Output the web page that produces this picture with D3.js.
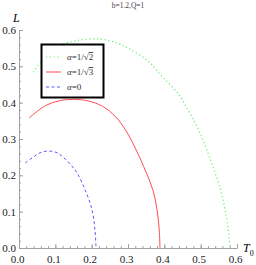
<!DOCTYPE html>
<html>
<head>
<meta charset="utf-8">
<script src="https://cdn.jsdelivr.net/npm/d3@7"></script>
<style>
  html, body { margin: 0; padding: 0; background: #fff; }
</style>
</head>
<body>
<div id="chart"></div>
<script>
// values: [T0, L]
const seriesNames = ["a=1/sqrt2", "a=1/sqrt3", "a=0"];
const greenPts = [
  [0.039, 0.484], [0.063, 0.515], [0.107, 0.555], [0.16, 0.571], [0.223, 0.575],
  [0.27, 0.564], [0.30, 0.550], [0.355, 0.515], [0.391, 0.475], [0.438, 0.425],
  [0.465, 0.380], [0.492, 0.330], [0.528, 0.240], [0.556, 0.155], [0.570, 0.088],
  [0.578, 0.03], [0.581, 0.0]
];
const redPts = [
  [0.028, 0.358], [0.07, 0.390], [0.11, 0.405], [0.15, 0.409], [0.19, 0.405],
  [0.23, 0.390], [0.265, 0.362], [0.295, 0.322], [0.32, 0.275], [0.35, 0.208],
  [0.369, 0.158], [0.38, 0.105], [0.386, 0.05], [0.388, 0.0]
];
const bluePts = [
  [0.017, 0.234], [0.039, 0.25], [0.058, 0.262], [0.08, 0.267], [0.105, 0.262],
  [0.121, 0.25], [0.142, 0.23], [0.16, 0.206], [0.182, 0.16], [0.201, 0.105],
  [0.209, 0.05], [0.212, 0.0]
];
const majorTicks = [0, 0.1, 0.2, 0.3, 0.4, 0.5, 0.6];
const minorTicks = d3.range(0, 0.6001, 0.02);

const width = 256, height = 265;

const svg = d3.select("#chart")
  .append("svg")
  .attr("width", width)
  .attr("height", height)
  .style("font-family", "'Liberation Serif', serif");

const x = d3.scaleLinear().domain([0, 0.6]).range([19, 237]);
const y = d3.scaleLinear().domain([0, 0.6]).range([248, 30]);

const axisColor = "#a0a0a0";

// x axis (ticks pointing up)
svg.append("g")
  .attr("transform", `translate(0,${y(0)})`)
  .call(d3.axisBottom(x).tickValues(minorTicks).tickSize(-2).tickFormat(""))
  .call(g => g.select(".domain").remove())
  .call(g => g.selectAll("line").attr("stroke", axisColor));

svg.append("g")
  .attr("transform", `translate(0,${y(0)})`)
  .call(d3.axisBottom(x).tickValues(majorTicks).tickSizeInner(-4).tickSizeOuter(0)
    .tickPadding(7).tickFormat(d3.format(".1f")))
  .call(g => g.select(".domain").attr("stroke", axisColor))
  .call(g => g.selectAll("line").attr("stroke", axisColor))
  .call(g => g.selectAll("text")
    .attr("font-family", "'Liberation Serif', serif")
    .attr("font-size", 11).attr("fill", "#222").attr("dx", -2));

// y axis (ticks pointing right)
svg.append("g")
  .attr("transform", `translate(${x(0)},0)`)
  .call(d3.axisLeft(y).tickValues(minorTicks).tickSize(-2).tickFormat(""))
  .call(g => g.select(".domain").remove())
  .call(g => g.selectAll("line").attr("stroke", axisColor));

svg.append("g")
  .attr("transform", `translate(${x(0)},0)`)
  .call(d3.axisLeft(y).tickValues(majorTicks).tickSizeInner(-4).tickSizeOuter(0)
    .tickPadding(3).tickFormat(d3.format(".1f")))
  .call(g => g.select(".domain").attr("stroke", axisColor))
  .call(g => g.selectAll("line").attr("stroke", axisColor))
  .call(g => g.selectAll("text")
    .attr("font-family", "'Liberation Serif', serif")
    .attr("font-size", 11).attr("fill", "#222"));

// axis labels
svg.append("text")
  .attr("x", 13).attr("y", 22)
  .attr("font-size", 12).attr("font-style", "italic")
  .text("L");

const t0 = svg.append("text")
  .attr("x", 243).attr("y", 252)
  .attr("font-size", 12).attr("font-style", "italic")
  .text("T");
t0.append("tspan").attr("font-size", 8).attr("font-style", "normal").attr("dy", 4).text("0");

// title
svg.append("text")
  .attr("x", 128).attr("y", 8)
  .attr("text-anchor", "middle")
  .attr("font-size", 7.5)
  .attr("fill", "#444")
  .text("b=1.2,Q=1");

const line = d3.line()
  .x(d => x(d[0]))
  .y(d => y(d[1]))
  .curve(d3.curveCatmullRom);

const styles = [
  { name: seriesNames[0], pts: greenPts, color: "#66ee66", dash: "1.2,2.6", w: 1.2, root: "2" },
  { name: seriesNames[1], pts: redPts, color: "#ff4d4d", dash: null, w: 1, root: "3" },
  { name: seriesNames[2], pts: bluePts, color: "#5a5aff", dash: "3,2.5", w: 1, root: null }
];

svg.append("g")
  .selectAll("path")
  .data(styles)
  .join("path")
  .attr("fill", "none")
  .attr("stroke", d => d.color)
  .attr("stroke-width", d => d.w)
  .attr("stroke-dasharray", d => d.dash)
  .attr("d", d => line(d.pts));

// legend
const legend = svg.append("g");
legend.append("rect")
  .attr("x", 41.5).attr("y", 44.5)
  .attr("width", 62).attr("height", 53)
  .attr("fill", "white")
  .attr("stroke", "black")
  .attr("stroke-width", 2);

const rowY = [57, 72, 87];
styles.forEach((s, i) => {
  legend.append("line")
    .attr("x1", 46).attr("x2", 61)
    .attr("y1", rowY[i]).attr("y2", rowY[i])
    .attr("stroke", s.color)
    .attr("stroke-width", s.w)
    .attr("stroke-dasharray", s.dash);
  const t = legend.append("text")
    .attr("x", 67).attr("y", rowY[i] + 3)
    .attr("font-size", 9)
    .attr("fill", "#333");
  t.append("tspan").attr("font-style", "italic").text("α");
  if (s.root) {
    t.append("tspan").text("=1/√");
    t.append("tspan").attr("text-decoration", "overline").text(s.root);
  } else {
    t.append("tspan").text("=0");
  }
});
</script>
</body>
</html>
